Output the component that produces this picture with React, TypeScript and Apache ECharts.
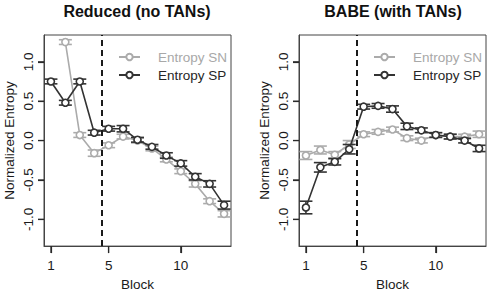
import React, { useEffect, useRef } from 'react';
import * as echarts from 'echarts';

const blocks = [1, 2, 3, 4, 5, 6, 7, 8, 9, 10, 11, 12, 13];
const xTicks = [1, 5, 10];
const yTicks = [-1, -0.5, 0, 0.5, 1];
const titles = ['Reduced (no TANs)', 'BABE (with TANs)'];
const seriesNames = ['Entropy SN', 'Entropy SP'];

// Reduced (no TANs)
const redSN: (number | null)[] = [null, 1.25, 0.07, -0.16, -0.06, 0.05, 0.0, -0.1, -0.24, -0.39, -0.55, -0.77, -0.93];
const redSNErr = [0.03, 0.03, 0.03, 0.04, 0.03, 0.03, 0.03, 0.03, 0.03, 0.03, 0.04, 0.03, 0.04];
const redSP: (number | null)[] = [0.75, 0.48, 0.75, 0.1, 0.15, 0.15, 0.01, -0.08, -0.19, -0.29, -0.46, -0.55, -0.82];
const redSPErr = [0.03, 0.03, 0.03, 0.03, 0.03, 0.04, 0.03, 0.03, 0.035, 0.035, 0.04, 0.04, 0.05];

// BABE (with TANs)
const babeSN: (number | null)[] = [-0.19, -0.12, -0.18, -0.05, 0.08, 0.11, 0.14, 0.03, 0.0, 0.07, 0.05, 0.05, 0.08];
const babeSNErr = [0.05, 0.05, 0.04, 0.05, 0.03, 0.03, 0.03, 0.03, 0.03, 0.03, 0.03, 0.03, 0.04];
const babeSP: (number | null)[] = [-0.85, -0.34, -0.27, -0.11, 0.43, 0.44, 0.4, 0.18, 0.13, 0.07, 0.05, 0.0, -0.1];
const babeSPErr = [0.08, 0.06, 0.04, 0.06, 0.03, 0.03, 0.04, 0.04, 0.03, 0.03, 0.03, 0.03, 0.04];

const dividerX = 4.5;
const X_MIN = 0.52;
const X_MAX = 13.48;
const Y_MIN = -1.34;
const Y_MAX = 1.34;

const FONT = "'Liberation Sans', Arial, Helvetica, sans-serif";
const GRAY = '#ababab';
const DARK = '#333333';
const TEXT = '#1a1a1a';
const BOX = '#444444';

const GRID_LEFTS = [44, 299];
const GRID_TOP = 35;
const GRID_W = 187;
const GRID_H = 217;

function errSeries(id: string, idx: number, vals: (number | null)[], errs: number[], color: string, z: number) {
  const data: number[][] = [];
  blocks.forEach((b, i) => {
    const v = vals[i];
    if (v != null) data.push([b, v - errs[i], v + errs[i]]);
  });
  return {
    type: 'custom',
    name: id,
    xAxisIndex: idx,
    yAxisIndex: idx,
    z,
    silent: true,
    clip: true,
    data,
    encode: { x: 0, y: [1, 2] },
    renderItem: (_params: any, api: any) => {
      const lo = api.coord([api.value(0), api.value(1)]);
      const hi = api.coord([api.value(0), api.value(2)]);
      const w = 6.5;
      const style = { stroke: color, lineWidth: 1.6, fill: 'none' };
      return {
        type: 'group',
        children: [
          { type: 'line', shape: { x1: lo[0], y1: lo[1], x2: hi[0], y2: hi[1] }, style },
          { type: 'line', shape: { x1: lo[0] - w, y1: lo[1], x2: lo[0] + w, y2: lo[1] }, style },
          { type: 'line', shape: { x1: hi[0] - w, y1: hi[1], x2: hi[0] + w, y2: hi[1] }, style },
        ],
      };
    },
  };
}

// Axis tick marks drawn through the axis scales (outside the plot box, like R)
function tickSeries(idx: number, dir: 'x' | 'y') {
  const data = dir === 'x' ? xTicks.map((t) => [t, Y_MIN]) : yTicks.map((t) => [X_MIN, t]);
  return {
    type: 'custom',
    name: 'ticks' + dir + idx,
    xAxisIndex: idx,
    yAxisIndex: idx,
    z: 5,
    silent: true,
    clip: false,
    data,
    encode: { x: 0, y: 1 },
    renderItem: (params: any, api: any) => {
      const p = api.coord([api.value(0), api.value(1)]);
      const cs = params.coordSys;
      const style = { stroke: '#2a2a2a', lineWidth: 1.2, fill: 'none' };
      if (dir === 'x') {
        const y0 = cs.y + cs.height;
        return { type: 'line', shape: { x1: p[0], y1: y0, x2: p[0], y2: y0 + 7 }, style };
      }
      const x0 = cs.x;
      return { type: 'line', shape: { x1: x0, y1: p[1], x2: x0 - 6, y2: p[1] }, style };
    },
  };
}

function lineSeries(name: string, idx: number, vals: (number | null)[], color: string, z: number, withDivider: boolean) {
  const s: any = {
    type: 'line',
    name,
    xAxisIndex: idx,
    yAxisIndex: idx,
    z,
    clip: true,
    data: blocks.map((b, i) => [b, vals[i]]),
    symbol: 'circle',
    symbolSize: 7,
    showSymbol: true,
    connectNulls: false,
    lineStyle: { color, width: 1.6 },
    itemStyle: { color: '#ffffff', borderColor: color, borderWidth: 1.6 },
    emphasis: { disabled: true },
  };
  if (withDivider) {
    s.markLine = {
      silent: true,
      symbol: 'none',
      label: { show: false },
      lineStyle: { type: [6, 4], color: '#1a1a1a', width: 2 },
      data: [{ xAxis: dividerX }],
    };
  }
  return s;
}

export default function App() {
  const ref = useRef<HTMLDivElement>(null);
  useEffect(() => {
    if (!ref.current) return;
    const chart = echarts.init(ref.current, undefined, { renderer: 'svg' });
    const panels = [
      { sn: redSN, snErr: redSNErr, sp: redSP, spErr: redSPErr },
      { sn: babeSN, snErr: babeSNErr, sp: babeSP, spErr: babeSPErr },
    ];
    const grids = GRID_LEFTS.map((l) => ({
      left: l,
      top: GRID_TOP,
      width: GRID_W,
      height: GRID_H,
      show: true,
      borderColor: BOX,
      borderWidth: 1,
    }));
    const xAxes = GRID_LEFTS.map((_, i) => ({
      type: 'value',
      gridIndex: i,
      min: X_MIN,
      max: X_MAX,
      splitLine: { show: false },
      axisLine: { show: true, onZero: false, lineStyle: { color: BOX, width: 1 } },
      axisTick: { show: true, length: 7, customValues: xTicks, lineStyle: { color: '#2a2a2a', width: 1.2 } },
      axisLabel: { show: true, customValues: xTicks, fontSize: 13.5, color: TEXT, fontFamily: FONT, margin: 12 },
      name: 'Block',
      nameLocation: 'middle',
      nameGap: 27,
      nameTextStyle: { fontSize: 13.5, color: TEXT, fontFamily: FONT },
    }));
    const yAxes = GRID_LEFTS.map((_, i) => ({
      type: 'value',
      gridIndex: i,
      min: Y_MIN,
      max: Y_MAX,
      splitLine: { show: false },
      axisLine: { show: true, onZero: false, lineStyle: { color: BOX, width: 1 } },
      axisTick: { show: true, length: 6, customValues: yTicks, lineStyle: { color: '#2a2a2a', width: 1.2 } },
      axisLabel: {
        show: true,
        customValues: yTicks,
        rotate: 90,
        fontSize: 13.5,
        color: TEXT,
        fontFamily: FONT,
        margin: 9,
        formatter: (v: number) => v.toFixed(1),
      },
      name: 'Normalized Entropy',
      nameLocation: 'middle',
      nameGap: 28,
      nameTextStyle: { fontSize: 13.5, color: TEXT, fontFamily: FONT },
    }));
    const series: any[] = [];
    panels.forEach((p, i) => {
      series.push(errSeries('errSN' + i, i, p.sn, p.snErr, GRAY, 1));
      series.push(lineSeries(seriesNames[0], i, p.sn, GRAY, 2, false));
      series.push(errSeries('errSP' + i, i, p.sp, p.spErr, DARK, 3));
      series.push(lineSeries(seriesNames[1], i, p.sp, DARK, 4, true));
      series.push(tickSeries(i, 'x'));
      series.push(tickSeries(i, 'y'));
    });
    const legends = [113, 368].map((l) => ({
      left: l,
      top: 45,
      orient: 'vertical',
      itemWidth: 21,
      itemHeight: 8,
      itemGap: 4,
      selectedMode: false,
      data: [
        { name: seriesNames[0], textStyle: { color: '#a8a8a8' } },
        { name: seriesNames[1], textStyle: { color: '#262626' } },
      ],
      textStyle: { fontSize: 13.5, fontFamily: FONT, padding: [0, 0, 0, 13] },
    }));
    const titleCenters = [137, 393];
    chart.setOption({
      animation: false,
      title: titles.map((t, i) => ({
        text: t,
        left: titleCenters[i],
        top: 3,
        padding: 0,
        textAlign: 'center',
        textStyle: { fontSize: 16, fontWeight: 'bold', color: '#111', fontFamily: FONT },
      })),
      legend: legends,
      grid: grids,
      xAxis: xAxes,
      yAxis: yAxes,
      series,
    });
    return () => chart.dispose();
  }, []);
  return (
    <div
      ref={ref}
      style={{ position: 'absolute', left: 0, top: 0, width: 490, height: 296 }}
    />
  );
}
